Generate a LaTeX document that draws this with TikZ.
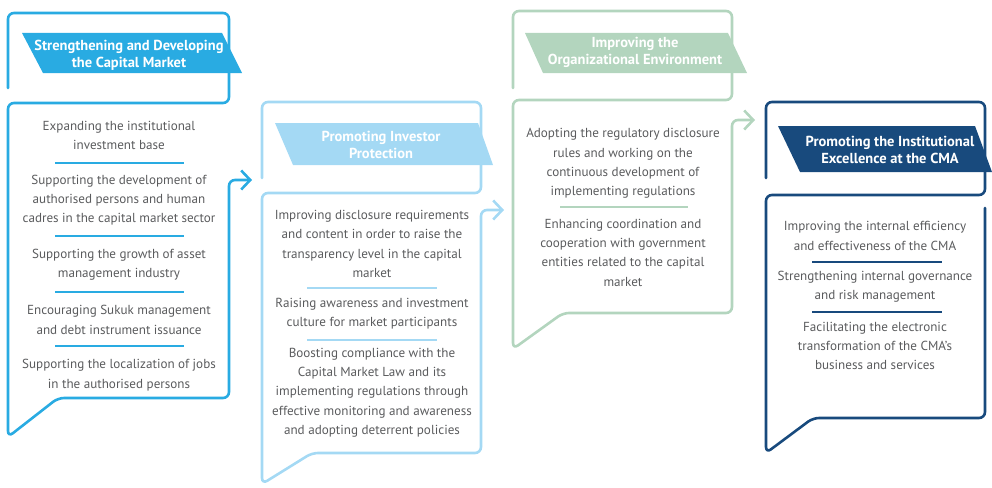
\documentclass[tikz,border=0pt]{standalone}
\usepackage{fontspec}
\setmainfont{PT Sans}
\usepackage{tikz}
\usetikzlibrary{arrows.meta}

\definecolor{cmablue}{HTML}{29ABE2}
\definecolor{cmasky}{HTML}{A4D9F4}
\definecolor{cmasage}{HTML}{B3D5BE}
\definecolor{cmanavy}{HTML}{184A7D}
\definecolor{itemgray}{HTML}{5A5B5D}

\begin{document}
\begin{tikzpicture}[x=1pt,y=-1pt,
    outline/.style={line width=2.6pt,rounded corners=6pt,line cap=round},
    onward/.style={-{Straight Barb[length=9pt,width=19pt]}},
    goal/.style={text=white,font=\bfseries\fontsize{14.5}{17}\selectfont,align=center,inner sep=0pt},
    item/.style={text=itemgray,font=\fontsize{13.1}{19.3}\selectfont,align=center,inner sep=0pt},
    divider/.style={line width=1.2pt}]
\useasboundingbox (0,0) rectangle (992,487);

% outlines
\draw[outline,cmablue,onward] (8,88) -- (8,13) -- (229,13) -- (229,103) -- (8,103) -- (8,437) -- (58,398) -- (229,398) -- (229,180) -- (252,180);
\draw[outline,cmasky,onward] (262,178) -- (262,102) -- (481,102) -- (481,193) -- (262,193) -- (262,484) -- (312,453) -- (481,453) -- (481,210) -- (504,210);
\draw[outline,cmasage,onward] (513,88) -- (513,11) -- (732,11) -- (732,100) -- (513,100) -- (513,349) -- (563,313) -- (732,313) -- (732,120) -- (755,120);
\draw[outline,cmanavy] (766,178) -- (766,102) -- (985,102) -- (985,195) -- (766,195) -- (766,453) -- (813,418) -- (985,418) -- (985,208);

% banners
\fill[cmablue] (22,33) -- (222,33) -- (242,73) -- (43,73) -- cycle;
\node[goal] (strengthen) at (129,55.5) {Strengthening and Developing\\the Capital Market};
\fill[cmasky] (275,123) -- (478,123) -- (493,165) -- (293,165) -- cycle;
\node[goal] (protect) at (381,145) {Promoting Investor\\Protection};
\fill[cmasage] (525,33) -- (728,33) -- (747,73) -- (543,73) -- cycle;
\node[goal] (environ) at (635,52) {Improving the\\Organizational Environment};
\fill[cmanavy] (778,126) -- (975,126) -- (992,172) -- (800,172) -- cycle;
\node[goal] (excel) at (890,150) {Promoting the Institutional\\Excellence at the CMA};

% strengthening and developing
\node[item] (strengthen1) at (119,135.5) {Expanding the institutional\\investment base};
\node[item] (strengthen2) at (119,200) {Supporting the development of\\authorised persons and human\\cadres in the capital market sector};
\node[item] (strengthen3) at (119,265) {Supporting the growth of asset\\management industry};
\node[item] (strengthen4) at (119,320) {Encouraging Sukuk management\\and debt instrument issuance};
\node[item] (strengthen5) at (119,375) {Supporting the localization of jobs\\in the authorised persons};
\draw[divider,cmablue] (55,163) -- (184,163);
\draw[divider,cmablue] (55,236) -- (184,236);
\draw[divider,cmablue] (55,292) -- (184,292);
\draw[divider,cmablue] (55,346) -- (184,346);

% investor protection
\node[item] (protect1) at (372,244) {Improving disclosure requirements\\and content in order to raise the\\transparency level in the capital\\market};
\node[item] (protect2) at (372,314) {Raising awareness and investment\\culture for market participants};
\node[item] (protect3) at (372,392.5) {Boosting compliance with the\\Capital Market Law and its\\implementing regulations through\\effective monitoring and awareness\\and adopting deterrent policies};
\draw[divider,cmasky] (307,288) -- (437,288);
\draw[divider,cmasky] (307,340) -- (437,340);

% organizational environment
\node[item] (environ1) at (623,163.5) {Adopting the regulatory disclosure\\rules and working on the\\continuous development of\\implementing regulations};
\node[item] (environ2) at (623,252.5) {Enhancing coordination and\\cooperation with government\\entities related to the capital\\market};
\draw[divider,cmasage] (560,207) -- (688,207);

% institutional excellence
\node[item] (excel1) at (875,236) {Improving the internal efficiency\\and effectiveness of the CMA};
\node[item] (excel2) at (875,286.5) {Strengthening internal governance\\and risk management};
\node[item] (excel3) at (875,346) {Facilitating the electronic\\transformation of the CMA's\\business and services};
\draw[divider,cmanavy] (812,262) -- (942,262);
\draw[divider,cmanavy] (812,312) -- (942,312);

\end{tikzpicture}
\end{document}
